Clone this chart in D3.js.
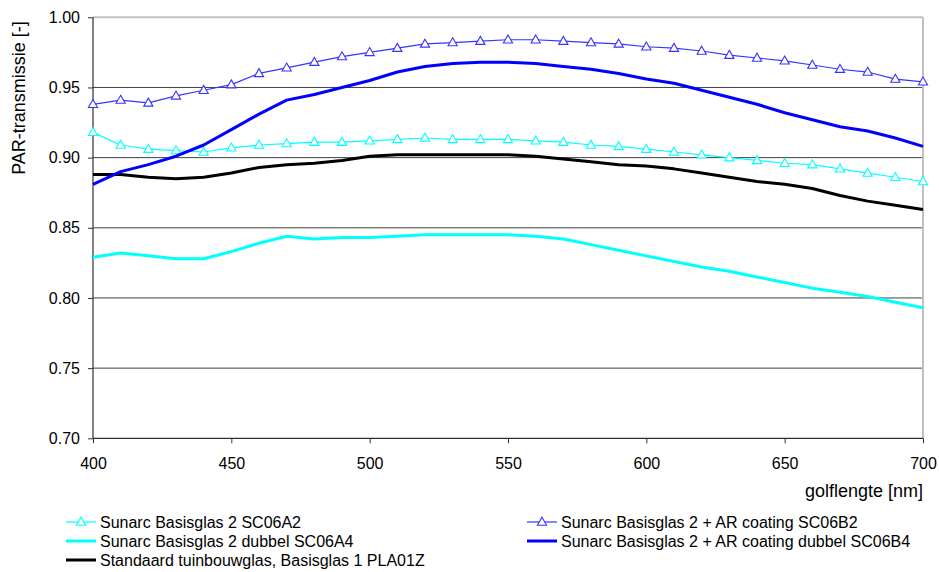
<!DOCTYPE html>
<html>
<head>
<meta charset="utf-8">
<script src="https://cdn.jsdelivr.net/npm/d3@7"></script>
<style>
  html, body { margin: 0; padding: 0; background: #ffffff; }
  svg { display: block; font-family: "Liberation Sans", Arial, sans-serif; }
</style>
</head>
<body>
<svg id="chart" width="939" height="572"></svg>
<script>
// ---- data ----
const wavelengths = [400,410,420,430,440,450,460,470,480,490,500,510,520,530,540,550,560,570,580,590,600,610,620,630,640,650,660,670,680,690,700];
const seriesNames = [
  "Sunarc Basisglas 2 SC06A2",
  "Sunarc Basisglas 2 + AR coating SC06B2",
  "Sunarc Basisglas 2 dubbel SC06A4",
  "Sunarc Basisglas 2 + AR coating dubbel SC06B4",
  "Standaard tuinbouwglas, Basisglas 1 PLA01Z"
];
const sc06a2 = [0.918,0.909,0.906,0.905,0.904,0.907,0.909,0.910,0.911,0.911,0.912,0.913,0.914,0.913,0.913,0.913,0.912,0.911,0.909,0.908,0.906,0.904,0.902,0.900,0.898,0.896,0.895,0.892,0.889,0.886,0.883];
const sc06b2 = [0.938,0.941,0.939,0.944,0.948,0.952,0.960,0.964,0.968,0.972,0.975,0.978,0.981,0.982,0.983,0.984,0.984,0.983,0.982,0.981,0.979,0.978,0.976,0.973,0.971,0.969,0.966,0.963,0.961,0.956,0.954];
const sc06a4 = [0.829,0.832,0.830,0.828,0.828,0.833,0.839,0.844,0.842,0.843,0.843,0.844,0.845,0.845,0.845,0.845,0.844,0.842,0.838,0.834,0.830,0.826,0.822,0.819,0.815,0.811,0.807,0.804,0.801,0.797,0.793];
const sc06b4 = [0.881,0.890,0.895,0.901,0.909,0.920,0.931,0.941,0.945,0.950,0.955,0.961,0.965,0.967,0.968,0.968,0.967,0.965,0.963,0.960,0.956,0.953,0.948,0.943,0.938,0.932,0.927,0.922,0.919,0.914,0.908];
const pla01z = [0.888,0.888,0.886,0.885,0.886,0.889,0.893,0.895,0.896,0.898,0.901,0.902,0.902,0.902,0.902,0.902,0.901,0.899,0.897,0.895,0.894,0.892,0.889,0.886,0.883,0.881,0.878,0.873,0.869,0.866,0.863];
const xTicks = [400,450,500,550,600,650,700];
const yTicks = [0.70,0.75,0.80,0.85,0.90,0.95,1.00];
const xTitle = "golflengte [nm]";
const yTitle = "PAR-transmissie [-]";

// ---- styles ----
const styles = [
  { values: sc06a2, color: "#00ffff", width: 1.2, marker: true },
  { values: sc06b2, color: "#3535ff", width: 1.2, marker: true },
  { values: sc06a4, color: "#00ffff", width: 3, marker: false },
  { values: sc06b4, color: "#0000ff", width: 3, marker: false },
  { values: pla01z, color: "#000000", width: 3, marker: false }
];

const svg = d3.select("#chart");
const L = 93, R = 923, T = 17.3, B = 438.3;
const x = d3.scaleLinear().domain([400, 700]).range([L, R]);
const y = d3.scaleLinear().domain([0.70, 1.00]).range([B, T]);

// gridlines
svg.append("g").selectAll("line").data(yTicks.filter(v => v > 0.701 && v < 0.999)).join("line")
  .attr("x1", L).attr("x2", R).attr("y1", d => y(d)).attr("y2", d => y(d))
  .attr("stroke", "#404040").attr("stroke-width", 1);
// top and right border
svg.append("line").attr("x1", L).attr("x2", R).attr("y1", y(1.00)).attr("y2", y(1.00))
  .attr("stroke", "#c0c0c0").attr("stroke-width", 2);
svg.append("line").attr("x1", R).attr("x2", R).attr("y1", T).attr("y2", B)
  .attr("stroke", "#c0c0c0").attr("stroke-width", 2);

// axes
const xAxis = d3.axisBottom(x).tickValues(xTicks).tickFormat(d3.format("d")).tickSize(5).tickPadding(14);
const yAxis = d3.axisLeft(y).tickValues(yTicks).tickFormat(d3.format(".2f")).tickSize(5).tickPadding(8);
const gx = svg.append("g").attr("transform", `translate(0,${B})`).call(xAxis);
const gy = svg.append("g").attr("transform", `translate(${L},0)`).call(yAxis);
[gx, gy].forEach(g => {
  g.select(".domain").attr("stroke", "#303030").attr("stroke-width", 1.2);
  g.selectAll(".tick line").attr("stroke", "#303030");
  g.selectAll(".tick text").attr("fill", "#000").style("font-size", "16px")
    .style("font-family", "'Liberation Sans', Arial, sans-serif");
});
gy.select(".domain").attr("d", `M-0,${T}H0V${B}H-0`);
gx.select(".domain").attr("d", `M${L},0H${R}`);

// axis titles
svg.append("text").attr("x", R).attr("y", 497).attr("text-anchor", "end")
  .style("font-size", "18px").text(xTitle);
svg.append("text").attr("transform", `translate(25,98) rotate(-90)`).attr("text-anchor", "middle")
  .style("font-size", "18px").text(yTitle);

// lines
const line = d3.line().x((d, i) => x(wavelengths[i])).y(d => y(d));
const tri = "M0,-4.8L4.6,3.2L-4.6,3.2Z";
const drawOrder = [0, 2, 4, 3, 1];
drawOrder.forEach(k => {
  const s = styles[k];
  const g = svg.append("g");
  g.append("path").datum(s.values).attr("d", line)
    .attr("fill", "none").attr("stroke", s.color).attr("stroke-width", s.width)
    .attr("stroke-linejoin", "round");
  if (s.marker) {
    g.selectAll("path.m").data(s.values).join("path").attr("class", "m")
      .attr("d", tri)
      .attr("transform", (d, i) => `translate(${x(wavelengths[i])},${y(d)})`)
      .attr("fill", "white").attr("stroke", s.color).attr("stroke-width", 1.1);
  }
});

// legend
const legendPos = [
  { k: 0, lx: 66, ly: 522 },
  { k: 1, lx: 527, ly: 522 },
  { k: 2, lx: 66, ly: 541 },
  { k: 3, lx: 527, ly: 541 },
  { k: 4, lx: 66, ly: 560 }
];
legendPos.forEach(p => {
  const s = styles[p.k];
  const g = svg.append("g").attr("transform", `translate(${p.lx},${p.ly})`);
  g.append("line").attr("x1", 0).attr("x2", 30).attr("y1", 0).attr("y2", 0)
    .attr("stroke", s.color).attr("stroke-width", s.width);
  if (s.marker) {
    g.append("path").attr("d", tri).attr("transform", "translate(15,0)")
      .attr("fill", "white").attr("stroke", s.color).attr("stroke-width", 1.1);
  }
  g.append("text").attr("x", 34).attr("y", 0).attr("dy", "0.35em")
    .style("font-size", "16px").attr("fill", "#000").text(seriesNames[p.k]);
});
</script>
</body>
</html>
